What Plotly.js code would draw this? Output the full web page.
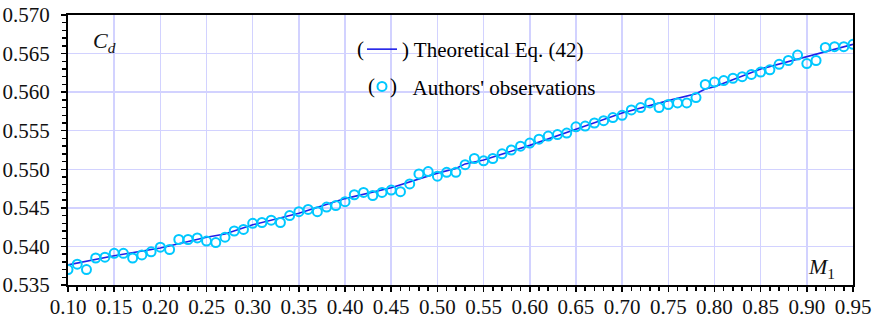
<!DOCTYPE html>
<html>
<head>
<meta charset="utf-8">
<script src="https://cdn.plot.ly/plotly-3.0.1.min.js"></script>
<style>html,body{margin:0;padding:0;background:#fff;}#chart{width:874px;height:321px;}</style>
</head>
<body>
<div id="chart"></div>
<script>
// Authors' observations
var obsM1 = [0.10,0.11,0.12,0.13,0.14,0.15,0.16,0.17,0.18,0.19,
             0.20,0.21,0.22,0.23,0.24,0.25,0.26,0.27,0.28,0.29,
             0.30,0.31,0.32,0.33,0.34,0.35,0.36,0.37,0.38,0.39,
             0.40,0.41,0.42,0.43,0.44,0.45,0.46,0.47,0.48,0.49,
             0.50,0.51,0.52,0.53,0.54,0.55,0.56,0.57,0.58,0.59,
             0.60,0.61,0.62,0.63,0.64,0.65,0.66,0.67,0.68,0.69,
             0.70,0.71,0.72,0.73,0.74,0.75,0.76,0.77,0.78,0.79,
             0.80,0.81,0.82,0.83,0.84,0.85,0.86,0.87,0.88,0.89,
             0.90,0.91,0.92,0.93,0.94,0.95];
var obsCd = [0.5370,0.5377,0.5370,0.5385,0.5386,0.5391,0.5391,0.5385,0.5389,0.5393,
             0.5399,0.5396,0.5409,0.5409,0.5411,0.5407,0.5405,0.5412,0.5420,0.5422,
             0.5430,0.5431,0.5434,0.5431,0.5440,0.5445,0.5448,0.5445,0.5451,0.5453,
             0.5458,0.5467,0.5470,0.5466,0.5470,0.5473,0.5471,0.5481,0.5494,0.5497,
             0.5491,0.5496,0.5496,0.5506,0.5514,0.5511,0.5514,0.5520,0.5525,0.5530,
             0.5534,0.5539,0.5543,0.5545,0.5547,0.5555,0.5556,0.5560,0.5563,0.5567,
             0.5570,0.5577,0.5580,0.5586,0.5580,0.5584,0.5586,0.5586,0.5593,0.5610,
             0.5613,0.5615,0.5618,0.5620,0.5623,0.5626,0.5629,0.5636,0.5641,0.5648,
             0.5637,0.5641,0.5658,0.5659,0.5659,0.5662];

// Theoretical Eq. (42)
var theoM1 = [0.10,0.15,0.20,0.25,0.27,0.30,0.35,0.40,0.45,0.50,0.52,0.53,
              0.55,0.60,0.65,0.70,0.75,0.78,0.79,0.80,0.85,0.90,0.95];
var theoCd = [0.5376,0.5388,0.5398,0.5412,0.5416,0.5428,0.5443,0.5462,0.5476,0.5495,0.5501,0.5507,
              0.5512,0.5531,0.5552,0.5573,0.5589,0.5598,0.5604,0.5607,0.5630,0.5646,0.5662];

var seriesNames = [") Theoretical Eq. (42)", "\u00a0\u00a0Authors' observations"];

var FONT = "'Liberation Serif', 'Times New Roman', Times, serif";

var traces = [
  {
    x: theoM1, y: theoCd, type: 'scatter', mode: 'lines',
    name: seriesNames[0], legendgroup: 'a',
    line: {color: '#1f1fe8', width: 1.6}
  },
  {
    x: obsM1, y: obsCd, type: 'scatter', mode: 'markers',
    name: seriesNames[1], legendgroup: 'b',
    marker: {symbol: 'circle-open', size: 9, color: '#00c8ff', line: {width: 2, color: '#00c8ff'}}
  }
];

function px2x(p) { return (p - 68) / 785; }
function py2y(p) { return 1 - (p - 15) / 270; }

var layout = {
  width: 874, height: 321,
  margin: {l: 68, r: 21, t: 15, b: 36},
  paper_bgcolor: '#ffffff', plot_bgcolor: '#ffffff',
  font: {family: FONT, size: 21, color: '#000'},
  showlegend: true,
  legend: {
    x: px2x(362), y: py2y(29), xanchor: 'left', yanchor: 'top',
    bgcolor: 'rgba(0,0,0,0)', borderwidth: 0,
    traceorder: 'grouped', tracegroupgap: 7,
    font: {family: FONT, size: 21, color: '#000'}
  },
  xaxis: {
    range: [0.10, 0.95], dtick: 0.05, tick0: 0.10, tickformat: '.2f',
    showgrid: true, gridcolor: '#d2d2ff', gridwidth: 1.5,
    zeroline: false, showline: true, linecolor: '#000', linewidth: 2, mirror: true,
    ticks: 'outside', ticklen: 5, tickwidth: 1.5, tickcolor: '#000',
    ticklabelstandoff: -3,
    minor: {dtick: 0.01, ticks: 'outside', ticklen: 4, tickwidth: 1.5, tickcolor: '#000', showgrid: false},
    tickfont: {family: FONT, size: 21, color: '#111'}
  },
  yaxis: {
    range: [0.535, 0.570], dtick: 0.005, tick0: 0.535, tickformat: '.3f',
    showgrid: true, gridcolor: '#d2d2ff', gridwidth: 1.5,
    zeroline: false, showline: true, linecolor: '#000', linewidth: 2, mirror: true,
    ticks: 'outside', ticklen: 5, tickwidth: 1.5, tickcolor: '#000',
    ticklabelstandoff: 7,
    minor: {dtick: 0.001, ticks: 'outside', ticklen: 4, tickwidth: 1.5, tickcolor: '#000', showgrid: false},
    tickfont: {family: FONT, size: 21, color: '#111'}
  },
  annotations: [
    {xref: 'paper', yref: 'paper', x: px2x(104), y: py2y(42), xanchor: 'center', yanchor: 'middle',
     text: '<i>C</i><sub><i>d</i></sub>', showarrow: false, font: {family: FONT, size: 22, color: '#111'}},
    {xref: 'paper', yref: 'paper', x: px2x(821), y: py2y(268), xanchor: 'center', yanchor: 'middle',
     text: '<i>M</i><sub>1</sub>', showarrow: false, font: {family: FONT, size: 22, color: '#111'}},
    {xref: 'paper', yref: 'paper', x: px2x(366), y: py2y(49), xanchor: 'right', yanchor: 'middle',
     text: '(', showarrow: false, font: {family: FONT, size: 21, color: '#000'}},
    {xref: 'paper', yref: 'paper', x: px2x(377), y: py2y(86), xanchor: 'right', yanchor: 'middle',
     text: '(', showarrow: false, font: {family: FONT, size: 21, color: '#000'}},
    {xref: 'paper', yref: 'paper', x: px2x(388), y: py2y(86), xanchor: 'left', yanchor: 'middle',
     text: ')', showarrow: false, font: {family: FONT, size: 21, color: '#000'}}
  ]
};

Plotly.newPlot('chart', traces, layout, {displayModeBar: false, staticPlot: true});
</script>
</body>
</html>
